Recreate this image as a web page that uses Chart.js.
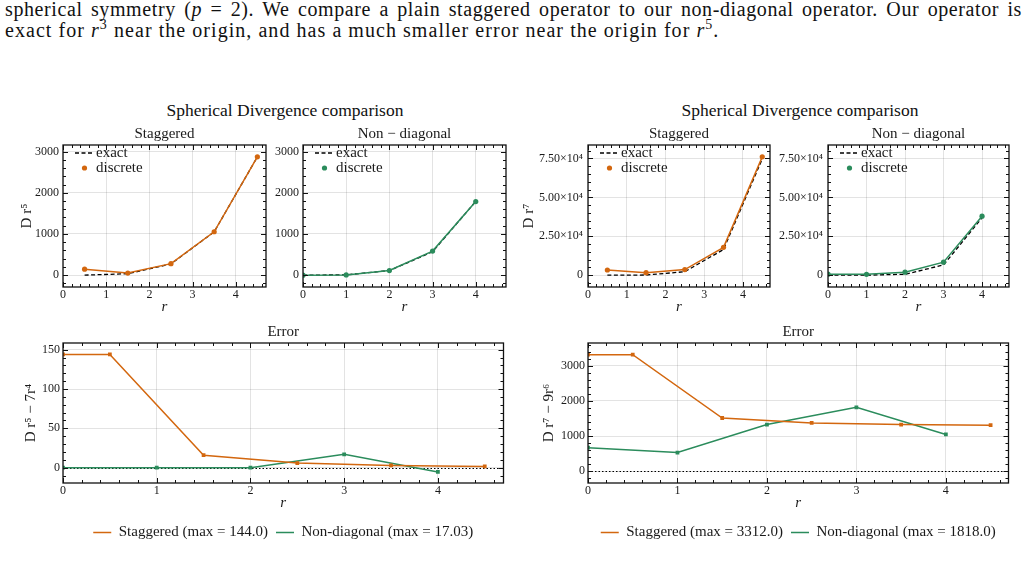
<!DOCTYPE html>
<html>
<head>
<meta charset="utf-8">
<script src="https://cdn.jsdelivr.net/npm/chart.js@4.4.1/dist/chart.umd.min.js"></script>
<style>
  html, body { margin: 0; padding: 0; background: #fff; }
  body { width: 1028px; height: 570px; overflow: hidden; position: relative;
         font-family: 'Liberation Serif', serif; color: #111; }
  .txt { position: absolute; left: 5px; width: 1017px; font-size: 20px; line-height: 21px; letter-spacing: 1.05px; }
  .txt.first { letter-spacing: 0.6px; text-align: justify; text-align-last: justify; }
  .txt sup { font-size: 0.7em; line-height: 0; vertical-align: 0; position: relative; top: -0.55em; }
  .suptitle { position: absolute; width: 400px; text-align: center; font-size: 17.5px; line-height: 20px; }
</style>
</head>
<body>
<div class="txt first" style="top:-1px">spherical symmetry (<i>p</i> = 2). We compare a plain staggered operator to our non-diagonal operator. Our operator is</div>
<div class="txt" style="top:20px">exact for <i>r</i><sup>3</sup> near the origin, and has a much smaller error near the origin for <i>r</i><sup>5</sup>.</div>
<div class="suptitle" style="left:85px;top:100px">Spherical Divergence comparison</div>
<div class="suptitle" style="left:600px;top:100px">Spherical Divergence comparison</div>

<script>
/* ---------------- data ---------------- */
// grid points
const rStaggered = [0.5, 1.5, 2.5, 3.5, 4.5];
const rNonDiag = [0, 1, 2, 3, 4];
const rErrStaggered = [0, 0.5, 1.5, 2.5, 3.5, 4.5];

// D r^5  (exact = 7 r^4)
const exactStagR5 = [0.44, 35.4, 273.4, 1050.4, 2870.4];
const discStagR5 = [144.4, 51.3, 279.3, 1053.3, 2872.0];
const exactNonR5 = [0, 7, 112, 567, 1792];
const discNonR5 = [0, 7, 112, 584.0, 1786.6];

// D r^7  (exact = 9 r^6)
const exactStagR7 = [0.14, 102.5, 2197.3, 16544.4, 74733.9];
const discStagR7 = [3312.1, 1616, 3571, 17872, 76043];
const exactNonR7 = [0, 9, 576, 6561, 36864];
const discNonR7 = [673, 542, 1905, 8379, 37912];

// errors
const errStagR5 = [144.0, 144.0, 15.9, 5.9, 2.9, 1.6];
const errNonR5 = [0, 0, 0, 17.03, -5.4];
const errStagR7 = [3312.0, 3312.0, 1514, 1374, 1328, 1309];
const errNonR7 = [673, 533, 1329, 1818.0, 1048];

const errLabelsR5 = ['Staggered (max = 144.0)', 'Non-diagonal (max = 17.03)'];
const errLabelsR7 = ['Staggered (max = 3312.0)', 'Non-diagonal (max = 1818.0)'];

// tick values
const rTicks = [0, 1, 2, 3, 4];
const yTicksR5 = [0, 1000, 2000, 3000];
const yTicksR7 = [0, 25000, 50000, 75000];
const yTicksErrR5 = [0, 50, 100, 150];
const yTicksErrR7 = [0, 1000, 2000, 3000];

/* ---------------- style ---------------- */
const ORANGE = '#d3670f';
const GREEN = '#2b8c5c';
const GRID = 'rgba(0,0,0,0.11)';
const FONT = "'Liberation Serif', serif";

Chart.defaults.font.family = FONT;
Chart.defaults.color = '#1a1a1a';

const pts = (xs, ys) => xs.map((x, i) => ({ x, y: ys[i] }));
const setTicks = vals => s => { s.ticks = vals.map(value => ({ value })); };

// frame with inward major/minor ticks on all four sides, plus optional dotted zero line
const framePlugin = {
    id: 'frame',
    beforeDatasetsDraw(chart, args, opts) {
        if (!opts.zeroLine) return;
        const { ctx, chartArea: a, scales: { y } } = chart;
        const y0 = Math.round(y.getPixelForValue(0)) + 0.5;
        ctx.save();
        ctx.strokeStyle = '#000';
        ctx.lineWidth = 1.2;
        ctx.setLineDash([1.5, 2]);
        ctx.beginPath();
        ctx.moveTo(a.left, y0);
        ctx.lineTo(a.right, y0);
        ctx.stroke();
        ctx.restore();
    },
    afterDraw(chart) {
        const { ctx, chartArea: a, scales: { x, y } } = chart;
        ctx.save();
        ctx.strokeStyle = '#111';
        ctx.lineWidth = 1;
        [x, y].forEach(scale => {
            const major = scale.ticks.map(t => t.value);
            const step = major[1] - major[0];
            for (let k = -5; k <= major.length * 5 + 5; k++) {
                const v = major[0] + k * step / 5;
                if (v < scale.min || v > scale.max) continue;
                const len = k % 5 === 0 ? 5 : 3;
                const p = Math.round(scale.getPixelForValue(v)) + 0.5;
                ctx.beginPath();
                if (scale === x) {
                    ctx.moveTo(p, a.bottom); ctx.lineTo(p, a.bottom - len);
                    ctx.moveTo(p, a.top); ctx.lineTo(p, a.top + len);
                } else {
                    ctx.moveTo(a.left, p); ctx.lineTo(a.left + len, p);
                    ctx.moveTo(a.right, p); ctx.lineTo(a.right - len, p);
                }
                ctx.stroke();
            }
        });
        ctx.lineWidth = 1.3;
        ctx.strokeRect(a.left, a.top, a.width, a.height);
        ctx.restore();
    }
};

// small legend drawn inside the top-left corner of the plot area
const innerLegend = {
    id: 'innerLegend',
    afterDraw(chart, args, opts) {
        if (!opts.entries) return;
        const { ctx, chartArea: a } = chart;
        opts.entries.forEach((e, row) => {
            const ds = chart.data.datasets[e.index];
            const yy = a.top + 8 + row * 15;
            ctx.save();
            if (e.kind === 'line') {
                ctx.strokeStyle = ds.borderColor;
                ctx.lineWidth = ds.borderWidth;
                ctx.setLineDash(ds.borderDash || []);
                ctx.beginPath();
                ctx.moveTo(a.left + 12, yy);
                ctx.lineTo(a.left + 31, yy);
                ctx.stroke();
            } else {
                ctx.fillStyle = ds.pointBackgroundColor;
                ctx.beginPath();
                ctx.arc(a.left + 21.5, yy, ds.pointRadius, 0, Math.PI * 2);
                ctx.fill();
            }
            ctx.fillStyle = '#1a1a1a';
            ctx.font = '15px ' + FONT;
            ctx.textBaseline = 'middle';
            ctx.fillText(ds.label, a.left + 33, yy);
            ctx.restore();
        });
    }
};

function makeCanvas(left, top, w, h) {
    const cv = document.createElement('canvas');
    cv.width = w;
    cv.height = h;
    cv.style.cssText = `position:absolute;left:${left}px;top:${top}px;width:${w}px;height:${h}px`;
    document.body.appendChild(cv);
    return cv.getContext('2d');
}

function xScale(extra) {
    return {
        type: 'linear',
        min: 0,
        max: 4.7,
        afterBuildTicks: setTicks(rTicks),
        ticks: { padding: 1, font: { size: 12 } },
        grid: { color: GRID, drawTicks: false },
        border: { display: false },
        title: { display: true, text: 'r', font: { size: 15, style: 'italic' }, padding: { top: 0, bottom: 1 + extra } },
        afterFit: s => { s.height = 30 + extra; }
    };
}

function yScale(p) {
    return {
        type: 'linear',
        min: p.min,
        max: p.max,
        afterBuildTicks: setTicks(p.ticks),
        ticks: { padding: p.tickPad, font: { size: 12 }, callback: p.fmt || (v => String(v)) },
        grid: { color: GRID, drawTicks: false },
        border: { display: false },
        title: { display: !!p.title, text: p.title, font: { size: 15 }, padding: { top: p.titlePad || 0, bottom: 0 } },
        afterFit: s => { s.width = p.width; }
    };
}

function topPanel(p) {
    const ctx = makeCanvas(p.left, 120, p.w, 197);
    return new Chart(ctx, {
        type: 'line',
        data: {
            datasets: [
                {
                    label: 'discrete',
                    data: pts(p.xs, p.disc),
                    borderColor: p.color,
                    backgroundColor: p.color,
                    pointBackgroundColor: p.color,
                    pointBorderWidth: 0,
                    pointRadius: 2.6,
                    borderWidth: 1.5,
                    tension: 0
                },
                {
                    label: 'exact',
                    data: pts(p.xs, p.exact),
                    borderColor: '#000',
                    borderWidth: 1.3,
                    borderDash: [4, 2.5],
                    pointRadius: 0,
                    tension: 0
                }
            ]
        },
        options: {
            responsive: false,
            animation: false,
            devicePixelRatio: 1,
            layout: { padding: { top: 3, right: 2, bottom: 0, left: 0 } },
            scales: { x: xScale(0), y: yScale(p.y) },
            plugins: {
                legend: { display: false },
                tooltip: { enabled: false },
                title: {
                    display: true, text: p.title, fullSize: false, color: '#1a1a1a',
                    font: { size: 15, weight: 'normal' }, padding: { top: 2, bottom: 2 }
                },
                innerLegend: { entries: [{ index: 1, kind: 'line' }, { index: 0, kind: 'marker' }] }
            }
        },
        plugins: [framePlugin, innerLegend]
    });
}

function errorSeries(label, xs, ys, color) {
    return {
        label,
        data: pts(xs, ys),
        borderColor: color,
        backgroundColor: color,
        pointStyle: 'rect',
        pointRadius: 1.6,
        pointBorderWidth: 1.5,
        pointBorderColor: color,
        pointBackgroundColor: color,
        borderWidth: 1.5,
        tension: 0
    };
}

function errorPanel(p) {
    const ctx = makeCanvas(p.left, 318, p.w, 232);
    return new Chart(ctx, {
        type: 'line',
        data: {
            datasets: [
                errorSeries(p.labels[0], rErrStaggered, p.errStag, ORANGE),
                errorSeries(p.labels[1], rNonDiag, p.errNon, GREEN)
            ]
        },
        options: {
            responsive: false,
            animation: false,
            devicePixelRatio: 1,
            layout: { padding: { top: 3, right: 2, bottom: 0, left: 0 } },
            scales: { x: xScale(4), y: yScale(p.y) },
            plugins: {
                tooltip: { enabled: false },
                title: {
                    display: true, text: 'Error', fullSize: false, color: '#1a1a1a',
                    font: { size: 15, weight: 'normal' }, padding: { top: 2, bottom: 2 }
                },
                legend: {
                    position: 'bottom',
                    fullSize: false,
                    labels: {
                        usePointStyle: true,
                        pointStyle: 'line',
                        pointStyleWidth: 18,
                        padding: 8,
                        color: '#1a1a1a',
                        font: { size: 15 }
                    }
                },
                frame: { zeroLine: true }
            }
        },
        plugins: [framePlugin]
    });
}

const fmtE4 = v => v === 0 ? '0' : (v / 1e4).toFixed(2) + '×10⁴';
const yR5 = { min: -287, max: 3159, ticks: yTicksR5 };
const yR7 = { min: -7600, max: 83650, ticks: yTicksR7, fmt: fmtE4 };

topPanel({ left: 15, w: 255, title: 'Staggered', xs: rStaggered, exact: exactStagR5, disc: discStagR5, color: ORANGE,
           y: { ...yR5, width: 48, tickPad: 4, title: 'D r⁵', titlePad: 3 } });
topPanel({ left: 269, w: 241, title: 'Non − diagonal', xs: rNonDiag, exact: exactNonR5, disc: discNonR5, color: GREEN,
           y: { ...yR5, width: 34, tickPad: 4 } });
topPanel({ left: 515, w: 259, title: 'Staggered', xs: rStaggered, exact: exactStagR7, disc: discStagR7, color: ORANGE,
           y: { ...yR7, width: 73, tickPad: 5, title: 'D r⁷', titlePad: 5 } });
topPanel({ left: 768, w: 245, title: 'Non − diagonal', xs: rNonDiag, exact: exactNonR7, disc: discNonR7, color: GREEN,
           y: { ...yR7, width: 60, tickPad: 5 } });

errorPanel({ left: 15, w: 494, errStag: errStagR5, errNon: errNonR5, labels: errLabelsR5,
             y: { min: -19.5, max: 158.5, ticks: yTicksErrR5, width: 48, tickPad: 3, title: 'D r⁵ − 7r⁴', titlePad: 7 } });
errorPanel({ left: 530, w: 484, errStag: errStagR7, errNon: errNonR7, labels: errLabelsR7,
             y: { min: -331, max: 3643, ticks: yTicksErrR7, width: 58, tickPad: 3, title: 'D r⁷ − 9r⁶', titlePad: 10 } });
</script>
</body>
</html>
